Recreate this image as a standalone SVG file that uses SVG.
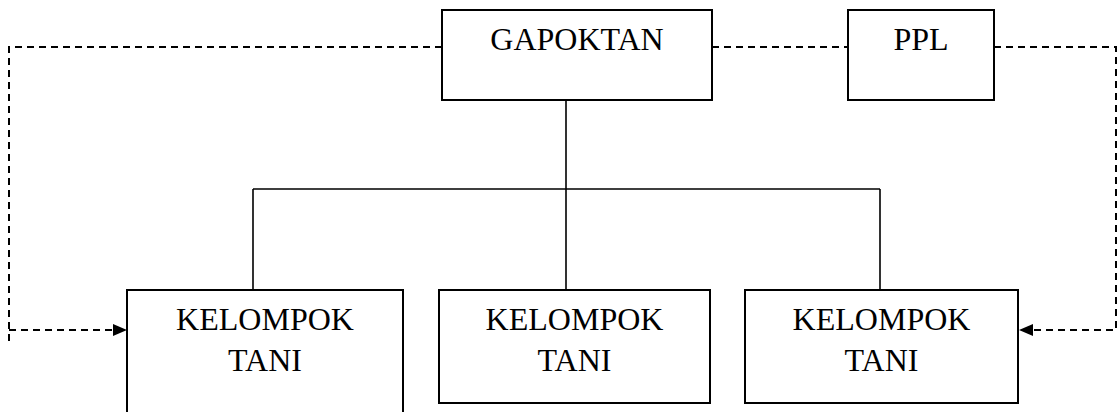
<svg xmlns="http://www.w3.org/2000/svg" width="1118" height="412" viewBox="0 0 1118 412">
  <style>
    .box { fill: #ffffff; stroke: #000000; stroke-width: 2; }
    .lbl { font-family: "Liberation Serif", "Times New Roman", serif; font-size: 32px; fill: #000000; text-anchor: middle; }
    .solid { fill: none; stroke: #000000; stroke-width: 1.6; }
    .dash { fill: none; stroke: #000000; stroke-width: 2; stroke-dasharray: 7 5; }
  </style>
  <defs>
    <marker id="arrow" viewBox="0 0 14 12" refX="14" refY="6" markerWidth="14" markerHeight="12" markerUnits="userSpaceOnUse" orient="auto">
      <path d="M0,0 L14,6 L0,12 Z" fill="#000000"/>
    </marker>
  </defs>
  <rect width="1118" height="412" fill="#ffffff"/>

  <!-- connectors -->
  <g id="connectors">
    <!-- hierarchy lines -->
    <path class="solid" d="M566,100 V189 M253,189 H880 M253,189 V290 M566,189 V290 M880,189 V290"/>
    <!-- coordination lines -->
    <path class="dash" d="M712,47 H848"/>
    <path class="dash" d="M442,47 H9 V343"/>
    <path class="dash" d="M9,330 H127" marker-end="url(#arrow)"/>
    <path class="dash" d="M994,47 H1116 V330 H1019" marker-end="url(#arrow)"/>
  </g>

  <g id="gapoktan">
    <rect class="box" x="442" y="10" width="270" height="90"/>
    <text class="lbl" x="577" y="50">GAPOKTAN</text>
  </g>

  <g id="ppl">
    <rect class="box" x="848" y="10" width="146" height="90"/>
    <text class="lbl" x="921" y="50">PPL</text>
  </g>

  <g id="kelompok-tani-1">
    <rect class="box" x="127" y="290" width="276" height="140"/>
    <text class="lbl" x="265" y="330">KELOMPOK</text>
    <text class="lbl" x="265" y="371">TANI</text>
  </g>

  <g id="kelompok-tani-2">
    <rect class="box" x="439" y="290" width="271" height="113"/>
    <text class="lbl" x="574.5" y="330">KELOMPOK</text>
    <text class="lbl" x="574.5" y="371">TANI</text>
  </g>

  <g id="kelompok-tani-3">
    <rect class="box" x="745" y="290" width="273" height="113"/>
    <text class="lbl" x="881.5" y="330">KELOMPOK</text>
    <text class="lbl" x="881.5" y="371">TANI</text>
  </g>
</svg>
